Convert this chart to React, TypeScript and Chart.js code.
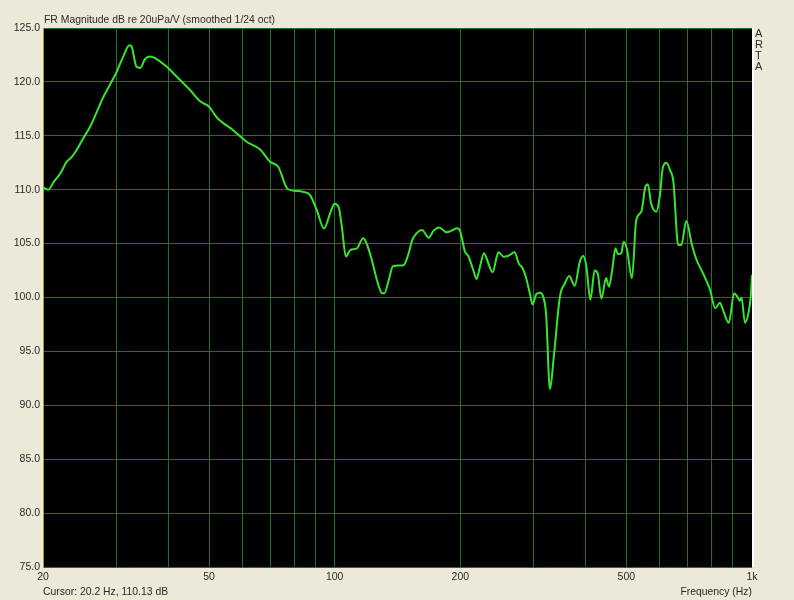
import React, { useEffect, useRef } from "react";
import { Chart, registerables } from "chart.js";

Chart.register(...registerables);

const freqHz = [
  20, 20.6, 21.2, 22.0, 22.8, 23.4, 24.1, 25.0, 25.9, 26.9, 27.9, 28.9, 30.0, 31.1, 32.2, 32.6,
  33.5, 34.2, 35.1, 36.1, 37.5, 39.6, 41.8, 45.0, 47.6, 50.0, 52.2, 57.2, 61.5, 66.2, 70.0, 73.3,
  77.0, 80, 84, 87.3, 90.6, 94.3, 97.5, 99.9, 102.2, 104, 106.4, 108.9, 113, 117, 119, 122.7,
  126.3, 129.9, 131.6, 134.7, 137.9, 146.3, 150.4, 153.3, 157.5, 161.9, 167.9, 172.6, 177.9, 185.4,
  190.5, 196.7, 200, 205.2, 209, 214.8, 218.8, 222.9, 228, 232, 239, 244.6, 247, 253.9, 260, 269.9,
  276, 282, 287, 293.5, 298, 304, 311, 315.8, 321, 328, 335, 346.6, 356, 364.7, 376, 386.6, 393.6,
  400.6, 410, 419.6, 427, 435.6, 447, 454, 462.4, 470.8, 477, 486, 492.6, 502, 515.6, 528, 543,
  555.4, 563, 573, 590, 601, 612, 624, 636, 648, 665.6, 677, 696, 718, 736.6, 762, 793.6, 816, 838,
  851, 880, 906, 922, 935, 944, 962, 980, 993, 1000,
];

const magnitudeDb = [
  110.2, 110.0, 110.7, 111.5, 112.6, 113.0, 113.7, 114.8, 115.8, 117.2, 118.6, 119.7, 120.9, 122.3, 123.4, 123.3,
  121.4, 121.3, 122.1, 122.35, 122.1, 121.4, 120.5, 119.25, 118.2, 117.7, 116.7, 115.5, 114.45, 113.75, 112.6, 112.1,
  110.1, 109.9, 109.8, 109.5, 108.1, 106.4, 107.8, 108.7, 108.4, 106.6, 103.8, 104.4, 104.55, 105.5, 105.1, 103.5,
  101.6, 100.4, 100.4, 101.6, 102.9, 103.0, 104.1, 105.3, 106.0, 106.26, 105.55, 106.2, 106.5, 106.05,
  106.2, 106.42, 106.1, 104.25, 103.85, 102.55, 101.72, 102.86, 104.1, 103.48, 102.34, 103.79, 104.19, 103.79, 103.85, 104.19,
  103.17, 102.71, 101.93, 100.39, 99.35, 100.3, 100.45, 100.1, 98.5, 91.5, 94.5, 100.1, 101.3, 102.0, 101.1, 103.3, 103.85,
  103.0, 99.8, 102.5, 102.2, 99.9, 101.8, 101.0, 102.55, 104.56, 104.04, 104.1, 105.18, 104.41, 101.78, 107.2, 107.96,
  110.28, 110.5, 108.74, 107.96, 109.35, 112.13, 112.5, 111.82, 110.74, 104.87, 104.87, 107.1, 104.87, 103.48, 102.3, 100.7, 99.0, 99.52,
  98.9, 97.66, 100.39, 100.08, 99.7, 99.98, 97.66, 98.53, 100.08, 102.1,
];

const xGridTicks = [20, 30, 40, 50, 60, 70, 80, 90, 100, 200, 300, 400, 500, 600, 700, 800, 900, 1000];
const xLabelValues = [20, 50, 100, 200, 500, 1000];
const xLabelTexts = ["20", "50", "100", "200", "500", "1k"];
const yMin = 75;
const yMax = 125;
const yStep = 5;

const titleText = "FR Magnitude dB re 20uPa/V (smoothed 1/24 oct)";
const cursorText = "Cursor: 20.2 Hz, 110.13 dB";
const xAxisText = "Frequency (Hz)";
const brandText = "ARTA";

const FONT = "'Liberation Sans', Arial, sans-serif";
const TEXT_COLOR = "#2a2a2a";
const GRID_COLOR = "#22702a";

export default function App() {
  const canvasRef = useRef<HTMLCanvasElement | null>(null);

  useEffect(() => {
    const canvas = canvasRef.current;
    if (!canvas) return;
    const bgPlugin = {
      id: "plotBg",
      beforeDraw(chart: any) {
        const { ctx, chartArea } = chart;
        ctx.save();
        ctx.fillStyle = "#000000";
        ctx.fillRect(chartArea.left, chartArea.top, chartArea.right - chartArea.left, chartArea.bottom - chartArea.top);
        ctx.restore();
      },
      afterDraw(chart: any) {
        const { ctx, chartArea } = chart;
        ctx.save();
        ctx.strokeStyle = "#ffffff";
        ctx.lineWidth = 2;
        ctx.beginPath();
        ctx.moveTo(chartArea.right + 1, chartArea.top);
        ctx.lineTo(chartArea.right + 1, chartArea.bottom);
        ctx.stroke();
        ctx.restore();
      },
    };

    const chart = new Chart(canvas, {
      type: "scatter",
      data: {
        datasets: [
          {
            data: freqHz.map((f, i) => ({ x: f, y: magnitudeDb[i] })),
            showLine: true,
            borderColor: "#36e62e",
            borderWidth: 2,
            pointRadius: 0,
            cubicInterpolationMode: "monotone",
          } as any,
        ],
      },
      options: {
        animation: false,
        responsive: false,
        maintainAspectRatio: false,
        layout: { padding: { top: 28, right: 42, left: 0, bottom: 0 } },
        plugins: { legend: { display: false }, tooltip: { enabled: false }, title: { display: false } },
        scales: {
          x: {
            type: "logarithmic",
            min: 20,
            max: 1000,
            afterBuildTicks: (scale: any) => {
              scale.ticks = xGridTicks.map((v) => ({ value: v }));
            },
            afterFit: (scale: any) => {
              scale.height = 33;
            },
            ticks: {
              autoSkip: false,
              maxRotation: 0,
              minRotation: 0,
              padding: 4,
              color: TEXT_COLOR,
              font: { family: FONT, size: 10.5 },
              callback: (v: any) => {
                const idx = xLabelValues.indexOf(Number(v));
                return idx >= 0 ? xLabelTexts[idx] : "";
              },
            },
            grid: { color: GRID_COLOR, lineWidth: 1, drawTicks: false },
            border: { display: false },
          },
          y: {
            type: "linear",
            min: yMin,
            max: yMax,
            afterFit: (scale: any) => {
              scale.width = 43;
            },
            ticks: {
              stepSize: yStep,
              padding: 3,
              color: TEXT_COLOR,
              font: { family: FONT, size: 10.5 },
              callback: (v: any) => Number(v).toFixed(1),
            },
            grid: { color: GRID_COLOR, lineWidth: 1, drawTicks: false },
            border: { display: true, color: "#a89f3c", width: 1 },
          },
        },
      } as any,
      plugins: [bgPlugin],
    });
    return () => chart.destroy();
  }, []);

  const textStyle: React.CSSProperties = {
    position: "absolute",
    fontFamily: FONT,
    fontSize: 10.4,
    lineHeight: "13px",
    color: TEXT_COLOR,
    whiteSpace: "nowrap",
  };

  return (
    <div style={{ position: "fixed", left: 0, top: 0, width: 794, height: 600, background: "#ECE9D8", overflow: "hidden" }}>
      <canvas ref={canvasRef} width={794} height={600} style={{ position: "absolute", left: 0, top: 0, width: 794, height: 600 }} />
      <div style={{ ...textStyle, left: 44, top: 13 }}>{titleText}</div>
      <div style={{ ...textStyle, left: 43, top: 585 }}>{cursorText}</div>
      <div style={{ ...textStyle, right: 42, top: 585 }}>{xAxisText}</div>
      <div style={{ ...textStyle, left: 755, top: 28, width: 9, fontSize: 11, whiteSpace: "normal", wordBreak: "break-all", lineHeight: "11px" }}>{brandText}</div>
    </div>
  );
}
